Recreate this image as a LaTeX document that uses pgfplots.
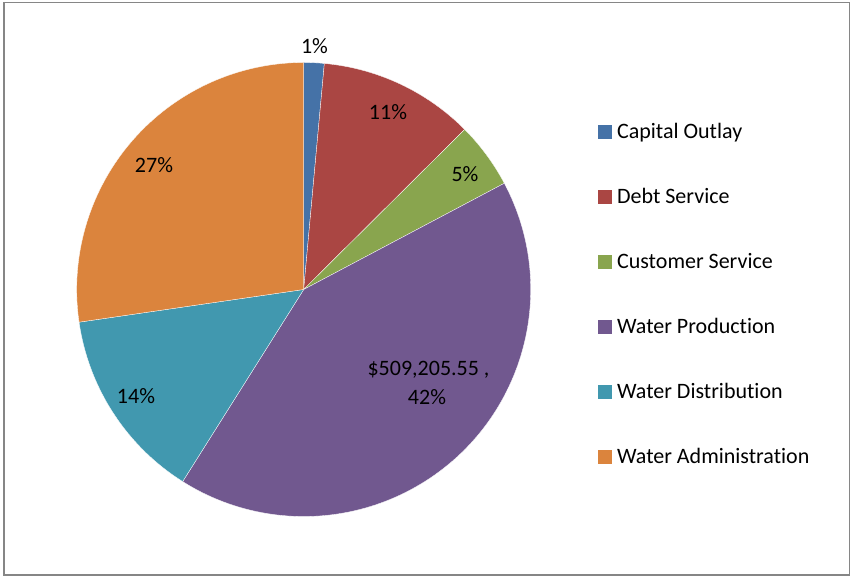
\documentclass[border=0pt]{standalone}
\usepackage{pgfplots}
\pgfplotsset{compat=1.18}
\usepackage{pgfplotstable}
\usepackage{fontspec}
\setmainfont{Carlito}[Ligatures=CommonOff]

\definecolor{pie0}{HTML}{4572A7}
\definecolor{pie1}{HTML}{AA4643}
\definecolor{pie2}{HTML}{89A54E}
\definecolor{pie3}{HTML}{71588F}
\definecolor{pie4}{HTML}{4198AF}
\definecolor{pie5}{HTML}{DB843D}
\definecolor{frame}{HTML}{868686}

% Expenditure by category (dollars)
\pgfplotstableread[col sep=comma]{
name,value
Capital Outlay,17706
Debt Service,135544
Customer Service,57392
Water Production,509205.55
Water Distribution,167903
Water Administration,333365
}\piedata

\begin{document}
\begin{tikzpicture}
\pgfplotstablegetrowsof{\piedata}
\pgfmathtruncatemacro\nlast{\pgfplotsretval-1}
\gdef\total{0}
\foreach \i in {0,...,\nlast}{%
  \pgfplotstablegetelem{\i}{value}\of\piedata
  \xdef\total{\fpeval{\total+\pgfplotsretval}}%
}
\gdef\cum{0}
\foreach \i in {0,...,\nlast}{%
  \pgfplotstablegetelem{\i}{value}\of\piedata
  \expandafter\xdef\csname sA\i\endcsname{\fpeval{90-360*\cum/\total}}%
  \xdef\cum{\fpeval{\cum+\pgfplotsretval}}%
  \expandafter\xdef\csname eA\i\endcsname{\fpeval{90-360*\cum/\total}}%
}
\begin{axis}[
  width=851bp, height=578bp, scale only axis,
  xmin=0, xmax=851, ymin=0, ymax=578,
  hide axis, clip=false,
  font=\fontsize{22bp}{26bp}\selectfont,
  legend style={at={(axis cs:598,455)}, anchor=north west, draw=none, fill=none,
    inner sep=0pt, outer sep=0pt, row sep=47bp, column sep=6bp,
    nodes={inner sep=0pt, text height=16bp, text depth=2bp},
    font=\fontsize{22bp}{26bp}\selectfont},
  legend cell align=left,
]
\path (axis cs:0,0) rectangle (axis cs:851,578);
\pgfplotsinvokeforeach{0,...,5}{
  \pgfplotsextra{%
    \edef\pieS{\csname sA#1\endcsname}\edef\pieE{\csname eA#1\endcsname}%
    \fill[pie#1, draw=white, line width=0.3bp] (axis cs:303.7,288.5) -- ++(\pieS:227bp)
      arc[start angle=\pieS, end angle=\pieE, radius=227bp] -- cycle;
  }
}
\draw[frame, line width=1.5bp] (axis cs:3.8,2.8) rectangle (axis cs:849.3,575.6);

\node at (axis cs:314.5,531.5) {1\%};
\node at (axis cs:388,466) {11\%};
\node at (axis cs:465,404) {5\%};
\node at (axis cs:428.5,208) {\$509,205.55 ,};
\node at (axis cs:427,181) {42\%};
\node at (axis cs:136,182) {14\%};
\node at (axis cs:154,413) {27\%};

\addlegendimage{legend image code/.code={\fill[pie0] (0bp,-6.3bp) rectangle (12.7bp,6.3bp);}}
\addlegendentry{Capital Outlay}
\addlegendimage{legend image code/.code={\fill[pie1] (0bp,-6.3bp) rectangle (12.7bp,6.3bp);}}
\addlegendentry{Debt Service}
\addlegendimage{legend image code/.code={\fill[pie2] (0bp,-6.3bp) rectangle (12.7bp,6.3bp);}}
\addlegendentry{Customer Service}
\addlegendimage{legend image code/.code={\fill[pie3] (0bp,-6.3bp) rectangle (12.7bp,6.3bp);}}
\addlegendentry{Water Production}
\addlegendimage{legend image code/.code={\fill[pie4] (0bp,-6.3bp) rectangle (12.7bp,6.3bp);}}
\addlegendentry{Water Distribution}
\addlegendimage{legend image code/.code={\fill[pie5] (0bp,-6.3bp) rectangle (12.7bp,6.3bp);}}
\addlegendentry{Water Administration}
\end{axis}
\end{tikzpicture}
\end{document}
